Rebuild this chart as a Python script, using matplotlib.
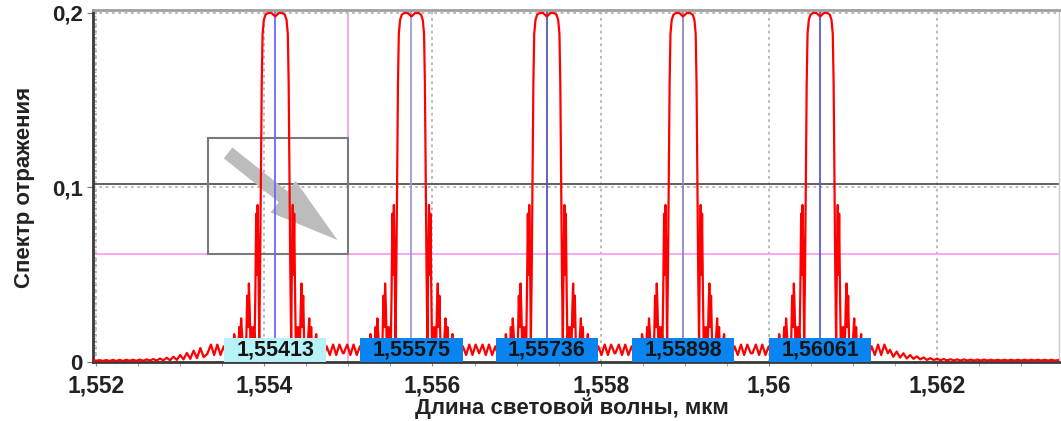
import matplotlib
matplotlib.use('Agg')
import matplotlib.pyplot as plt
import numpy as np
from matplotlib.patches import Rectangle, FancyArrowPatch
from matplotlib.ticker import MultipleLocator

plt.rcParams['font.family'] = ['Liberation Sans', 'DejaVu Sans']

# ---------------- data ----------------
peak_centers = [1.55413, 1.55575, 1.55736, 1.55898, 1.56061]
peak_labels = ['1,55413', '1,55575', '1,55736', '1,55898', '1,56061']

# one-sided reflection profile of a peak: offset from centre (nm), reflectance
profile_dnm = [0.000, 0.045, 0.085, 0.115, 0.135, 0.150, 0.160, 0.170, 0.180, 0.190,
               0.200, 0.209, 0.218, 0.226, 0.236, 0.245, 0.256, 0.268, 0.280, 0.292,
               0.303, 0.313, 0.322, 0.333, 0.345, 0.357, 0.369, 0.381, 0.393, 0.405,
               0.417, 0.428, 0.440, 0.452, 0.464, 0.476, 0.488, 0.500, 0.512, 0.524,
               0.536, 0.574, 0.612, 0.650, 0.688, 0.726, 0.764, 0.805]
profile_r = [0.198, 0.200, 0.200, 0.199, 0.196, 0.188, 0.160, 0.105, 0.050, 0.012,
             0.060, 0.090, 0.050, 0.085, 0.040, 0.010, 0.020, 0.004, 0.020, 0.006,
             0.030, 0.045, 0.020, 0.038, 0.010, 0.003, 0.012, 0.003, 0.015, 0.025,
             0.008, 0.020, 0.004, 0.008, 0.002, 0.012, 0.016, 0.004, 0.008, 0.003,
             0.007, 0.003, 0.009, 0.004, 0.010, 0.004, 0.010, 0.005]

left_tail_x = [1.55196, 1.55200, 1.55204, 1.55208, 1.55212, 1.55216, 1.55220, 1.55224,
               1.55228, 1.55232, 1.55236, 1.55240, 1.55244, 1.55248, 1.55252, 1.55256,
               1.55260, 1.55264, 1.55268, 1.55272, 1.55276, 1.55280, 1.55284, 1.55288,
               1.55292, 1.55296, 1.55300, 1.55304, 1.55308, 1.55312, 1.55316, 1.55320,
               1.55324, 1.55328, 1.55332]
left_tail_r = [0.0010, 0.0006, 0.0011, 0.0006, 0.0011, 0.0006, 0.0012, 0.0006,
               0.0012, 0.0006, 0.0013, 0.0007, 0.0013, 0.0007, 0.0014, 0.0007,
               0.0015, 0.0008, 0.0017, 0.0008, 0.0020, 0.0009, 0.0024, 0.0010,
               0.0030, 0.0012, 0.0040, 0.0015, 0.0052, 0.0018, 0.0065, 0.0022,
               0.0080, 0.0028, 0.0045]

right_tail_x = [1.56144, 1.56148, 1.56152, 1.56156, 1.56160, 1.56164, 1.56168, 1.56172,
                1.56176, 1.56180, 1.56184, 1.56188, 1.56192, 1.56196, 1.56200, 1.56204,
                1.56208, 1.56212, 1.56216, 1.56220, 1.56224, 1.56228, 1.56232, 1.56236,
                1.56240, 1.56244, 1.56248, 1.56252, 1.56256, 1.56260, 1.56264, 1.56268,
                1.56272, 1.56276, 1.56280, 1.56284, 1.56288, 1.56292, 1.56296, 1.56300,
                1.56304, 1.56308, 1.56312, 1.56316, 1.56320, 1.56324, 1.56328, 1.56332,
                1.56336, 1.56340, 1.56346]
right_tail_r = [0.0070, 0.0030, 0.0060, 0.0025, 0.0050, 0.0020, 0.0040, 0.0018,
                0.0032, 0.0015, 0.0026, 0.0012, 0.0022, 0.0011, 0.0019, 0.0010,
                0.0017, 0.0009, 0.0016, 0.0009, 0.0015, 0.0008, 0.0015, 0.0008,
                0.0014, 0.0008, 0.0014, 0.0008, 0.0014, 0.0008, 0.0013, 0.0008,
                0.0013, 0.0008, 0.0013, 0.0008, 0.0013, 0.0008, 0.0013, 0.0008,
                0.0013, 0.0008, 0.0013, 0.0008, 0.0013, 0.0008, 0.0013, 0.0008,
                0.0013, 0.0008, 0.0012]

xticks = [1.552, 1.554, 1.556, 1.558, 1.560, 1.562]
xtick_labels = ['1,552', '1,554', '1,556', '1,558', '1,56', '1,562']
yticks = [0.0, 0.1, 0.2]
ytick_labels = ['0', '0,1', '0,2']

marker_x = 1.555        # pink vertical marker
marker_y = 0.062        # pink horizontal marker
level_y = 0.102         # dark horizontal level
zoom_box = (1.55333, 0.062, 1.555, 0.1284)   # x0, y0, x1, y1
arrow_from = (1.55357, 0.1198)
arrow_to = (1.55487, 0.0699)

# ---------------- build curve ----------------
dnm = np.array(profile_dnm)
rr = np.array(profile_r)
off_um = np.concatenate([-dnm[::-1], dnm[1:]]) * 1e-3
r_full = np.concatenate([rr[::-1], rr[1:]])
xs = [np.array(left_tail_x)]
ys = [np.array(left_tail_r)]
for c in peak_centers:
    xs.append(c + off_um)
    ys.append(r_full)
xs.append(np.array(right_tail_x))
ys.append(np.array(right_tail_r))
x_curve = np.concatenate(xs)
y_curve = np.concatenate(ys)

# ---------------- figure ----------------
W, H = 1061, 421
fig = plt.figure(figsize=(W / 100, H / 100), dpi=100)
ax = fig.add_axes([92.7 / W, 59 / H, 966.3 / W, 352 / H])
ax.set_xlim(1.55196, 1.56345)
ax.set_ylim(0, 0.2017)

# grid
ax.set_xticks(xticks)
ax.set_yticks(yticks)
ax.grid(True, which='major', color='#b4b4b4', linestyle=(0, (1.5, 2.0)), lw=1.3, zorder=0)
ax.set_axisbelow(True)

# markers
ax.axvline(marker_x, color='#f29af2', lw=1.2, zorder=1)
ax.axhline(marker_y, color='#f29af2', lw=1.2, zorder=1)
ax.axhline(level_y, color='#555555', lw=1.3, zorder=1)

# zoom box and arrow
x0, y0, x1, y1 = zoom_box
ax.add_patch(Rectangle((x0, y0), x1 - x0, y1 - y0, fill=False,
                       edgecolor='#7a7a7a', lw=1.5, zorder=2))
arr = FancyArrowPatch(arrow_from, arrow_to,
                      arrowstyle='simple,head_length=5.0,head_width=2.9,tail_width=1.0',
                      mutation_scale=10, color='#bcbcbc', lw=0, shrinkA=0, shrinkB=0,
                      zorder=1.5)
ax.add_patch(arr)

# centre lines
line_colors = ['#6a6aff', '#9c9cd2', '#5656b0', '#8a8ac6', '#5a5ad8']
ax.vlines(peak_centers, 0, 0.2017, colors=line_colors, lw=1.3, zorder=2.5)

# spectrum
ax.plot(x_curve, y_curve, color='#ff0000', lw=1.6, zorder=3)

# label boxes
box_w = 0.00122
box_h = 0.0138
box_colors = ['#b6f2f6', '#0a84f0', '#0a84f0', '#0a84f0', '#0a84f0']
for c, lab, bc in zip(peak_centers, peak_labels, box_colors):
    ax.add_patch(Rectangle((c - box_w / 2, 0), box_w, box_h, facecolor=bc,
                           edgecolor='none', zorder=4))
    ax.text(c, box_h / 2, lab, ha='center', va='center', fontsize=15.5,
            fontweight='bold', color='#151515', zorder=5)

# ticks
ax.set_xticklabels(xtick_labels, fontsize=16.5, fontweight='bold', color='#222222')
ax.set_yticklabels(ytick_labels, fontsize=16, fontweight='bold', color='#222222')
ax.xaxis.set_minor_locator(MultipleLocator(0.0005))
ax.yaxis.set_minor_locator(MultipleLocator(0.002))
ax.tick_params(axis='x', which='major', length=3, color='#888888', pad=6)
ax.tick_params(axis='x', which='minor', length=3, color='#999999', direction='out')
ax.tick_params(axis='y', which='major', length=4, color='#777777', pad=3)
ax.tick_params(axis='y', which='minor', length=2.5, color='#aaaaaa', direction='in')

# spines
ax.spines['left'].set_color('#3a3a3a')
ax.spines['left'].set_linewidth(2.0)
ax.spines['bottom'].set_color('#3a3a3a')
ax.spines['bottom'].set_linewidth(2.0)
ax.spines['top'].set_color('#a0a0a0')
ax.spines['top'].set_linewidth(2.0)
ax.spines['right'].set_color('#c8c8c8')
ax.spines['right'].set_linewidth(1.0)

# axis titles
fig.text(572 / W, 1 - 408 / H, 'Длина световой волны, мкм', ha='center', va='center',
         fontsize=16, fontweight='bold', color='#222222')
fig.text(25 / W, 1 - 187 / H, 'Спектр отражения', ha='center', va='center',
         rotation=90, fontsize=16, fontweight='bold', color='#222222')

fig.savefig('out.png', dpi=100)
